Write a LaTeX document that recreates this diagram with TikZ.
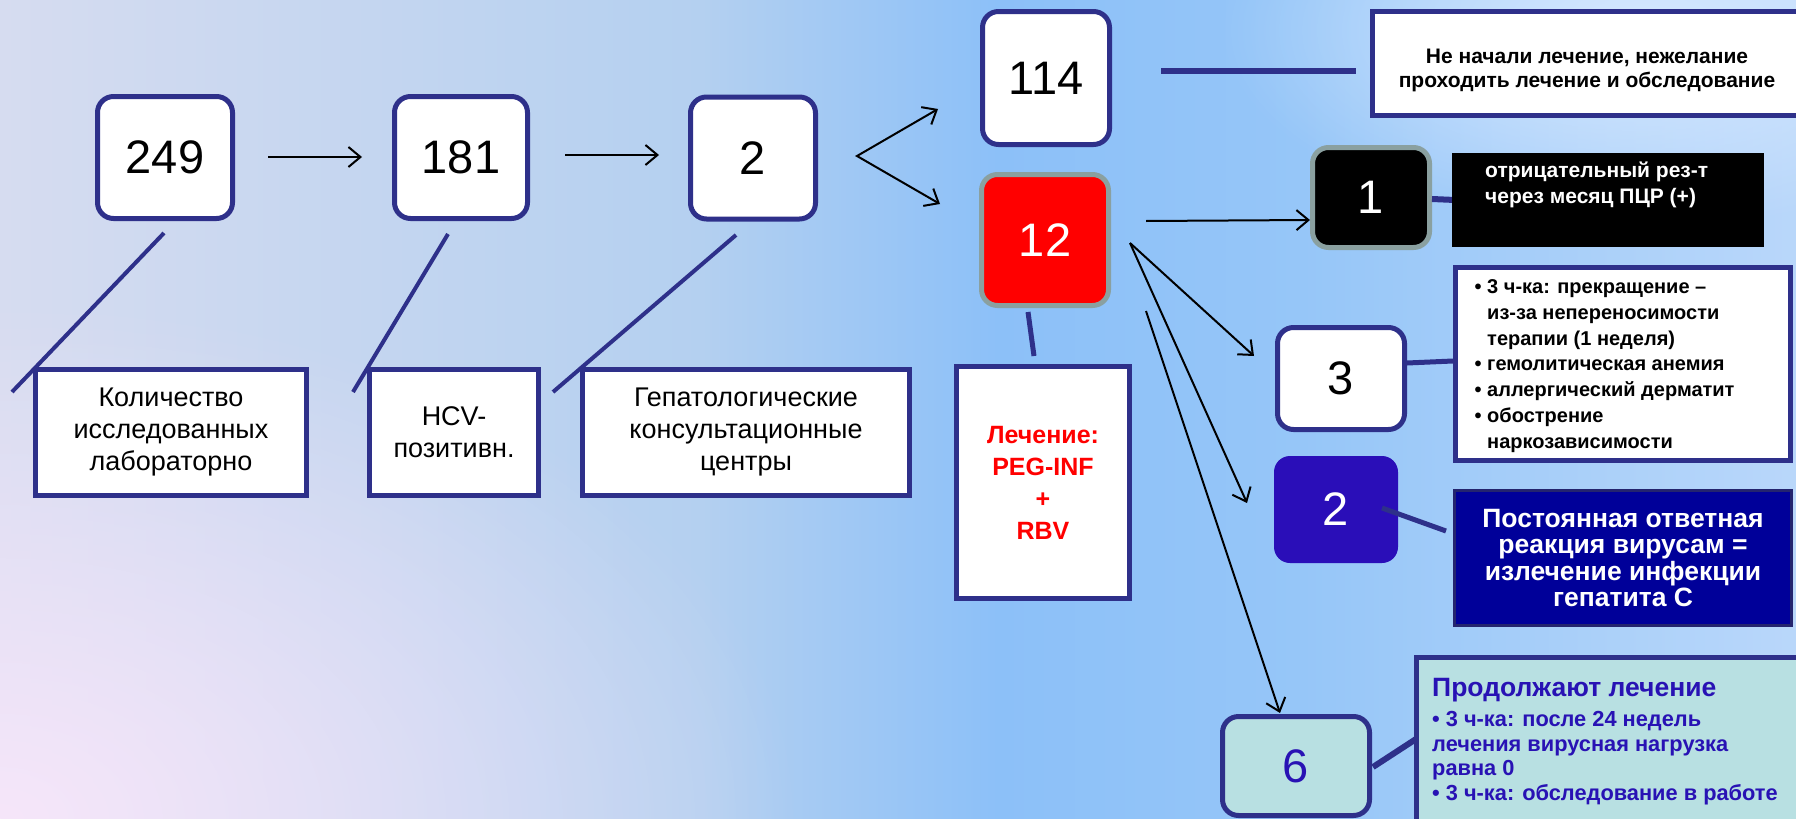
\documentclass[tikz,border=0pt]{standalone}
\usepackage{fontspec}
\setmainfont{Liberation Sans}
\usetikzlibrary{arrows.meta,fadings}
\tikzfading[name=myfadeout, inner color=transparent!0, outer color=transparent!100]
\definecolor{navy}{RGB}{46,48,138}
\definecolor{grayb}{RGB}{138,160,160}
\definecolor{boxblue}{RGB}{42,14,184}
\definecolor{deepblue}{RGB}{0,0,153}
\definecolor{deepblueb}{RGB}{36,36,110}
\definecolor{teal6}{RGB}{184,224,226}
\definecolor{txtblue}{RGB}{40,18,180}
\definecolor{bgA}{RGB}{214,220,240}
\definecolor{bgB}{RGB}{180,208,240}
\definecolor{bgC}{RGB}{140,192,248}
\definecolor{bgD}{RGB}{150,198,248}
\definecolor{bgE}{RGB}{185,215,250}
\definecolor{lav}{RGB}{246,230,250}
\definecolor{glow}{RGB}{215,233,255}
\pgfdeclarehorizontalshading{bgshade}{100bp}{color(0bp)=(bgA); color(25bp)=(bgA); color(44.5bp)=(bgB); color(52.8bp)=(bgC); color(61.2bp)=(bgD); color(75bp)=(bgE); color(100bp)=(bgE)}
\begin{document}
\begin{tikzpicture}[x=1pt,y=-1pt,
  numbox/.style={draw=navy, line width=5pt, rounded corners=16pt, fill=white, inner sep=0pt, font=\fontsize{47}{56}\selectfont},
  labbox/.style={draw=navy, line width=5pt, fill=white, inner sep=0pt, align=center, font=\fontsize{27}{32}\selectfont},
  txtbox/.style={draw=navy, line width=5pt, fill=white, inner sep=0pt},
  callout/.style={draw=navy, line width=4pt},
  conn/.style={draw=navy, line width=5pt},
  arr/.style={draw=black, line width=2pt, -{Straight Barb[length=12pt,width=20pt]}},
  arrboth/.style={draw=black, line width=2pt, {Straight Barb[length=12pt,width=20pt]}-{Straight Barb[length=12pt,width=20pt]}}
]
\useasboundingbox (0,0) rectangle (1796,819);
\clip (0,0) rectangle (1796,819);
% background
\shade[shading=bgshade] (0,0) rectangle (1796,819);
\fill[lav, path fading=myfadeout] (0,819) ellipse [x radius=800pt, y radius=520pt];
\fill[glow, path fading=myfadeout] (1640,30) ellipse [x radius=420pt, y radius=200pt];

% callout lines
\coordinate (c1a) at (164,233); \coordinate (c1b) at (12,392);
\coordinate (c2a) at (448,234); \coordinate (c2b) at (353,392);
\coordinate (c3a) at (736,235); \coordinate (c3b) at (553,392);
\draw[callout] (c1a) -- (c1b);
\draw[callout] (c2a) -- (c2b);
\draw[callout] (c3a) -- (c3b);

% number boxes
\node[numbox, minimum width=135pt, minimum height=122pt] (n249) at (165,157.5) {249};
\node[numbox, minimum width=133pt, minimum height=122pt] (n181) at (461,157.5) {181};
\node[numbox, minimum width=125pt, minimum height=122pt] (n2) at (753,158) {2};
\node[numbox, minimum width=127pt, minimum height=133pt] (n114) at (1046,78) {114};
\node[numbox, draw=grayb, fill=red, text=white, minimum width=127pt, minimum height=131pt] (n12) at (1045,240) {12};

% label boxes
\node[labbox, minimum width=271pt, minimum height=126pt] (l249) at (171,432.5) {Количество\\исследованных\\лабораторно};
\node[labbox, minimum width=169pt, minimum height=126pt] (l181) at (454,432.5) {HCV-\\позитивн.};
\node[labbox, minimum width=327pt, minimum height=126pt] (l2) at (746,432.5) {Гепатологические\\консультационные\\центры};

% treatment
\coordinate (tr1) at (1028,312); \coordinate (tr2) at (1034,356);
\draw[conn] (tr1) -- (tr2);
\node[labbox, minimum width=173pt, minimum height=232pt, text=red, font=\bfseries\fontsize{25}{32}\selectfont] (treat) at (1043,482.5) {Лечение:\\PEG-INF\\+\\RBV};

% not started
\coordinate (ns1) at (1161,71); \coordinate (ns2) at (1356,71);
\draw[conn, line width=6pt] (ns1) -- (ns2);
\node[txtbox, minimum width=429pt, minimum height=104pt] (nsbox) at (1587,63.5) {};
\node[align=center, inner sep=0pt, font=\bfseries\fontsize{21}{24}\selectfont] (nstxt) at (1587,70) {Не начали лечение, нежелание\\проходить лечение и обследование};

% outcome 1
\node[numbox, draw=grayb, fill=black, text=white, minimum width=117pt, minimum height=100pt] (b1) at (1371,197.5) {1};
\coordinate (o1a) at (1432,199); \coordinate (o1b) at (1455,200);
\draw[conn, line width=6pt] (o1a) -- (o1b);
\node[fill=black, inner sep=0pt, minimum width=312pt, minimum height=94pt] (t1box) at (1608,200) {};
\node[anchor=west, align=left, inner sep=0pt, text=white, font=\bfseries\fontsize{21}{26.5}\selectfont] (t1txt) at (1485,185) {отрицательный рез-т\\через месяц ПЦР (+)};

% outcome 3
\node[numbox, minimum width=127pt, minimum height=102pt] (b3) at (1341,378.5) {3};
\coordinate (o3a) at (1407,363); \coordinate (o3b) at (1453,361);
\draw[conn] (o3a) -- (o3b);
\node[txtbox, minimum width=335pt, minimum height=193pt] (t3box) at (1623,364) {};
\node[anchor=west, align=left, inner sep=0pt, font=\bfseries\fontsize{20}{25.7}\selectfont] (t3txt) at (1487,366) {\llap{\textbullet\ }3 ч-ка: прекращение –\\из-за непереносимости\\терапии (1 неделя)\\\llap{\textbullet\ }гемолитическая анемия\\\llap{\textbullet\ }аллергический дерматит\\\llap{\textbullet\ }обострение\\наркозависимости};

% outcome 2
\node[numbox, draw=none, fill=boxblue, text=white, minimum width=124pt, minimum height=107pt] (b2) at (1336,509.5) {2};
\coordinate (o2a) at (1382,508); \coordinate (o2b) at (1446,531);
\draw[conn] (o2a) -- (o2b);
\node[draw=deepblueb, line width=3pt, fill=deepblue, inner sep=0pt, minimum width=337pt, minimum height=135pt, text=white, align=center, font=\bfseries\fontsize{26.5}{26.3}\selectfont] (t2box) at (1623,558) {Постоянная ответная\\реакция вирусам =\\излечение инфекции\\гепатита С};

% outcome 6
\node[numbox, fill=teal6, text=txtblue, minimum width=147pt, minimum height=99pt] (b6) at (1296,766) {6};
\coordinate (o6a) at (1373,767); \coordinate (o6b) at (1416,739);
\draw[conn, line width=6pt] (o6a) -- (o6b);
\node[txtbox, fill=teal6, minimum width=391pt, minimum height=180pt] (t6box) at (1612,747.5) {};
\node[anchor=north west, align=left, inner sep=0pt, text=txtblue, font=\bfseries\fontsize{21.8}{24.7}\selectfont] (t6txt) at (1432,678) {{\fontsize{26.5}{24.7}\selectfont Продолжают лечение}\\[5.3pt]\textbullet\ 3 ч-ка: после 24 недель\\лечения вирусная нагрузка\\равна 0\\\textbullet\ 3 ч-ка: обследование в работе};

% arrows
\coordinate (a1s) at (268,157); \coordinate (a1e) at (362,157);
\coordinate (a2s) at (565,155); \coordinate (a2e) at (659,155);
\coordinate (fk) at (857,156); \coordinate (fku) at (938,109); \coordinate (fkd) at (940,204);
\coordinate (r0) at (1146,221); \coordinate (r1) at (1310,220);
\coordinate (s0) at (1130,243); \coordinate (s3) at (1254,356); \coordinate (s2) at (1247,503);
\coordinate (u0) at (1146,311); \coordinate (u6) at (1280,713);
\draw[arr] (a1s) -- (a1e);
\draw[arr] (a2s) -- (a2e);
\draw[arrboth] (fku) -- (fk) -- (fkd);
\draw[arr] (r0) -- (r1);
\draw[arr] (s0) -- (s3);
\draw[arr] (s0) -- (s2);
\draw[arr] (u0) -- (u6);
\end{tikzpicture}
\end{document}
